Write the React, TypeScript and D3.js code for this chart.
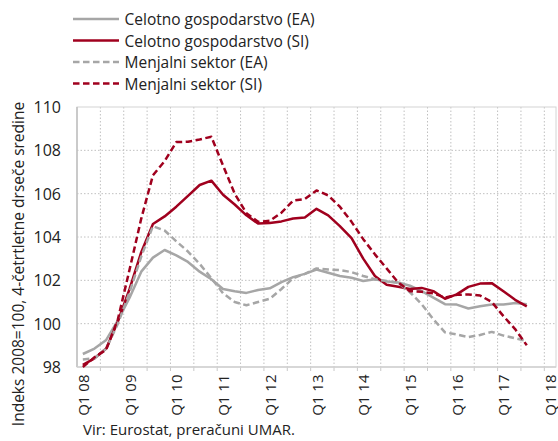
import React from "react";
import * as d3 from "d3";

const years = ["08", "09", "10", "11", "12", "13", "14", "15", "16", "17", "18"];
const quarters = ["Q1", "Q2", "Q3", "Q4"];
// categories Q1 08 .. Q1 18 (41)
const categories: string[] = [];
years.forEach((y, yi) => {
  quarters.forEach((q) => {
    if (yi < years.length - 1 || q === "Q1") categories.push(`${q} ${y}`);
  });
});
const tickLabels = years.map((y) => `Q1 ${y}`);
const yTicks = [98, 100, 102, 104, 106, 108, 110];

const celotnoEA = [98.6, 98.85, 99.25, 100.15, 101.2, 102.4, 103.05, 103.4, 103.15, 102.85, 102.4, 102.05, 101.6, 101.5, 101.42, 101.55, 101.63, 101.92, 102.15, 102.3, 102.5, 102.35, 102.2, 102.12, 101.97, 102.05, 101.95, 101.9, 101.75, 101.5, 101.2, 100.9, 100.88, 100.7, 100.8, 100.88, 100.88, 100.95, 100.9];
const celotnoSI = [98.1, 98.4, 98.85, 100.1, 101.6, 103.3, 104.6, 104.95, 105.4, 105.9, 106.4, 106.6, 105.95, 105.5, 105.0, 104.62, 104.65, 104.72, 104.85, 104.9, 105.3, 105.0, 104.5, 103.95, 103.0, 102.2, 101.8, 101.7, 101.6, 101.65, 101.5, 101.15, 101.35, 101.7, 101.85, 101.87, 101.5, 101.1, 100.8];
const menjalniEA = [98.35, 98.4, 98.85, 100.0, 101.45, 103.1, 104.5, 104.3, 103.8, 103.33, 102.76, 102.1, 101.4, 101.0, 100.85, 101.0, 101.15, 101.6, 102.1, 102.3, 102.55, 102.5, 102.47, 102.38, 102.2, 102.05, 101.97, 101.88, 101.45, 100.9, 100.2, 99.6, 99.5, 99.38, 99.48, 99.62, 99.45, 99.33, 99.2];
const menjalniSI = [98.0, 98.45, 98.8, 100.2, 102.5, 104.85, 106.85, 107.5, 108.38, 108.4, 108.5, 108.63, 107.3, 106.0, 105.1, 104.7, 104.75, 105.12, 105.68, 105.75, 106.15, 105.92, 105.4, 104.7, 103.9, 103.2, 102.55, 101.9, 101.5, 101.47, 101.4, 101.2, 101.33, 101.35, 101.3, 101.0, 100.35, 99.75, 99.0];

const RED = "#a0001e";
const GRAY = "#a6a6a6";
const FONT = "'Open Sans', sans-serif";
const DASH = "6.5,3.5";

const series = [
  { name: "Celotno gospodarstvo (EA)", values: celotnoEA, color: GRAY, dash: "" },
  { name: "Celotno gospodarstvo (SI)", values: celotnoSI, color: RED, dash: "" },
  { name: "Menjalni sektor (EA)", values: menjalniEA, color: GRAY, dash: DASH },
  { name: "Menjalni sektor (SI)", values: menjalniSI, color: RED, dash: DASH },
];

export default function App() {
  const W = 558, H = 441;
  const left = 77, right = 556, top = 107, bottom = 367;
  const x = d3.scaleBand<string>().domain(categories).range([left, right]).paddingInner(0).paddingOuter(0);
  const bw = x.bandwidth();
  const y = d3.scaleLinear().domain([98, 110]).range([bottom, top]);
  const line = d3
    .line<number>()
    .x((_, i) => (x(categories[i]) as number) + bw / 2)
    .y((d) => y(d));

  const vGrid = categories.filter((_, i) => i % 2 === 0).map((c) => x(c) as number).slice(1);
  const legendY = [19, 40.5, 62, 83.5];

  return (
    <svg width={W} height={H} style={{ position: "absolute", left: 0, top: 0 }} fontFamily={FONT}>
      <rect x={0} y={0} width={W} height={H} fill="#fff" />
      {/* grid */}
      {yTicks.slice(1, -1).map((t) => (
        <line key={"h" + t} x1={left} x2={right} y1={y(t)} y2={y(t)} stroke="#c0c0c0" strokeDasharray="1.5,2" />
      ))}
      {vGrid.map((gx, i) => (
        <line key={"v" + i} x1={gx} x2={gx} y1={top} y2={bottom} stroke="#c0c0c0" strokeDasharray="1.5,2" />
      ))}
      {vGrid.map((gx, i) => (
        <line key={"t" + i} x1={gx} x2={gx} y1={bottom} y2={bottom + 4} stroke="#c8c8c8" />
      ))}
      <rect x={left} y={top} width={right - left} height={bottom - top} fill="none" stroke="#d4d4d4" strokeWidth={1} />
      <line x1={left} x2={left} y1={top} y2={bottom} stroke="#bfbfbf" strokeWidth={1.5} />
      <line x1={left} x2={right} y1={bottom} y2={bottom} stroke="#d0d0d0" strokeWidth={1.5} />
      {/* y tick labels */}
      {yTicks.map((t) => (
        <text key={"yl" + t} x={61} y={y(t)} textAnchor="end" dominantBaseline="central" fontSize={16} fill="#222">
          {t}
        </text>
      ))}
      {/* x tick labels */}
      {tickLabels.map((lab) => {
        const cx = (x(lab) as number) + bw / 2;
        return (
          <text key={lab} transform={`translate(${cx},${374.5}) rotate(-90)`} textAnchor="end" dominantBaseline="central" fontSize={15} fill="#222">
            {lab}
          </text>
        );
      })}
      {/* series */}
      {series.map((s) => (
        <path key={s.name} d={line(s.values) || ""} fill="none" stroke={s.color} strokeWidth={2.5} strokeDasharray={s.dash || undefined} strokeLinejoin="round" />
      ))}
      {/* legend */}
      {series.map((s, i) => (
        <g key={"lg" + i}>
          <line x1={73} x2={119} y1={legendY[i]} y2={legendY[i]} stroke={s.color} strokeWidth={2.5} strokeDasharray={s.dash || undefined} />
          <text x={124.5} y={legendY[i]} dominantBaseline="central" fontSize={15.5} fill="#222">
            {s.name}
          </text>
        </g>
      ))}
      {/* axis title */}
      <text transform="translate(18,264) rotate(-90)" textAnchor="middle" dominantBaseline="central" fontSize={15.5} fill="#222">
        Indeks 2008=100, 4-četrtletne drseče sredine
      </text>
      <text x={83} y={429} dominantBaseline="central" fontSize={15} fill="#222">
        Vir: Eurostat, preračuni UMAR.
      </text>
    </svg>
  );
}
